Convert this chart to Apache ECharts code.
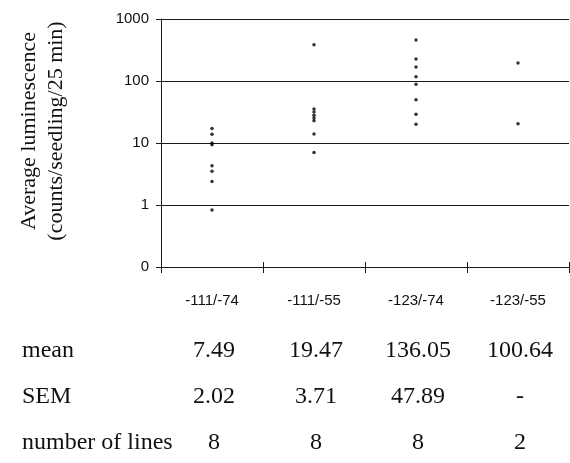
<!DOCTYPE html>
<html><head><meta charset="utf-8">
<script src="https://cdn.jsdelivr.net/npm/echarts@6/dist/echarts.min.js"></script>
<style>html,body{margin:0;padding:0;background:#fff}#c{width:570px;height:463px}</style>
</head><body><div id="c"></div>
<script>
const categories = ['-111/-74', '-111/-55', '-123/-74', '-123/-55'];
const lum_111_74 = [17.1, 13.9, 10.0, 9.4, 4.3, 3.5, 2.4, 0.83];
const lum_111_55 = [384, 35.2, 31.5, 28.1, 25.2, 22.9, 14.0, 7.0];
const lum_123_74 = [458, 226, 168, 117, 89, 50, 29, 20];
const lum_123_55 = [195, 20.4];
const yTicks = [0.1, 1, 10, 100, 1000];
const yTickLabels = ['0', '1', '10', '100', '1000'];
const rowNames = ['mean', 'SEM', 'number of lines'];
const meanVals = ['7.49', '19.47', '136.05', '100.64'];
const semVals = ['2.02', '3.71', '47.89', '-'];
const nLines = ['8', '8', '8', '2'];
const yTitle = ['Average luminescence', '(counts/seedling/25 min)'];

const groups = [lum_111_74, lum_111_55, lum_123_74, lum_123_55];
const points = [];
groups.forEach((g, i) => g.forEach(v => points.push([categories[i], v])));

const chart = echarts.init(document.getElementById('c'), null, {renderer: 'canvas'});
const axisColor = '#1a1a1a';
const option = {
  animation: false,
  backgroundColor: '#fff',
  grid: {left: 161, right: 1, top: 19, bottom: 196, containLabel: false},
  xAxis: [{
    type: 'category', data: categories, boundaryGap: true,
    axisLine: {lineStyle: {color: axisColor, width: 1}},
    axisTick: {show: true, length: 6, lineStyle: {color: axisColor}},
    axisLabel: {margin: 26, fontFamily: 'Liberation Sans', fontSize: 15, color: '#111'},
    splitLine: {show: false}
  }, {
    type: 'category', data: categories, boundaryGap: true, position: 'bottom',
    axisLine: {show: false},
    axisTick: {show: true, inside: true, length: 5, lineStyle: {color: axisColor}},
    axisLabel: {show: false}, splitLine: {show: false}
  }],
  yAxis: {
    type: 'log', logBase: 10, min: 0.1, max: 1000, interval: 1,
    axisLine: {show: true, lineStyle: {color: axisColor, width: 1}},
    axisTick: {show: true, length: 5, lineStyle: {color: axisColor}},
    axisLabel: {
      margin: 12, fontFamily: 'Liberation Sans', fontSize: 15, color: '#111',
      formatter: v => {
        for (let i = 0; i < yTicks.length; i++) if (Math.abs(Math.log10(v) - Math.log10(yTicks[i])) < 1e-6) return yTickLabels[i];
        return '';
      }
    },
    splitLine: {show: true, lineStyle: {color: axisColor, width: 1}}
  },
  series: [{
    type: 'scatter', xAxisIndex: 0, data: points,
    symbol: 'circle', symbolSize: 3.5,
    itemStyle: {color: '#000'}
  }]
};
chart.setOption(option);

const serif = 'Liberation Serif';
const graphics = [{
  type: 'text', x: 43, y: 131, rotation: Math.PI / 2,
  style: {text: yTitle.join('\n'), font: '22px "' + serif + '"', fill: '#111',
    align: 'center', verticalAlign: 'middle', lineHeight: 27}
}];
const rowY = [351, 397, 443];
const rows = [meanVals, semVals, nLines];
rowNames.forEach((n, r) => {
  graphics.push({type: 'text', x: 22, y: rowY[r],
    style: {text: n, font: '24px "' + serif + '"', fill: '#111', align: 'left', verticalAlign: 'middle'}});
  rows[r].forEach((v, i) => {
    const px = chart.convertToPixel({xAxisIndex: 0}, categories[i]);
    graphics.push({type: 'text', x: px + 2, y: rowY[r],
      style: {text: v, font: '24px "' + serif + '"', fill: '#111', align: 'center', verticalAlign: 'middle'}});
  });
});
chart.setOption({graphic: graphics});
</script></body></html>
